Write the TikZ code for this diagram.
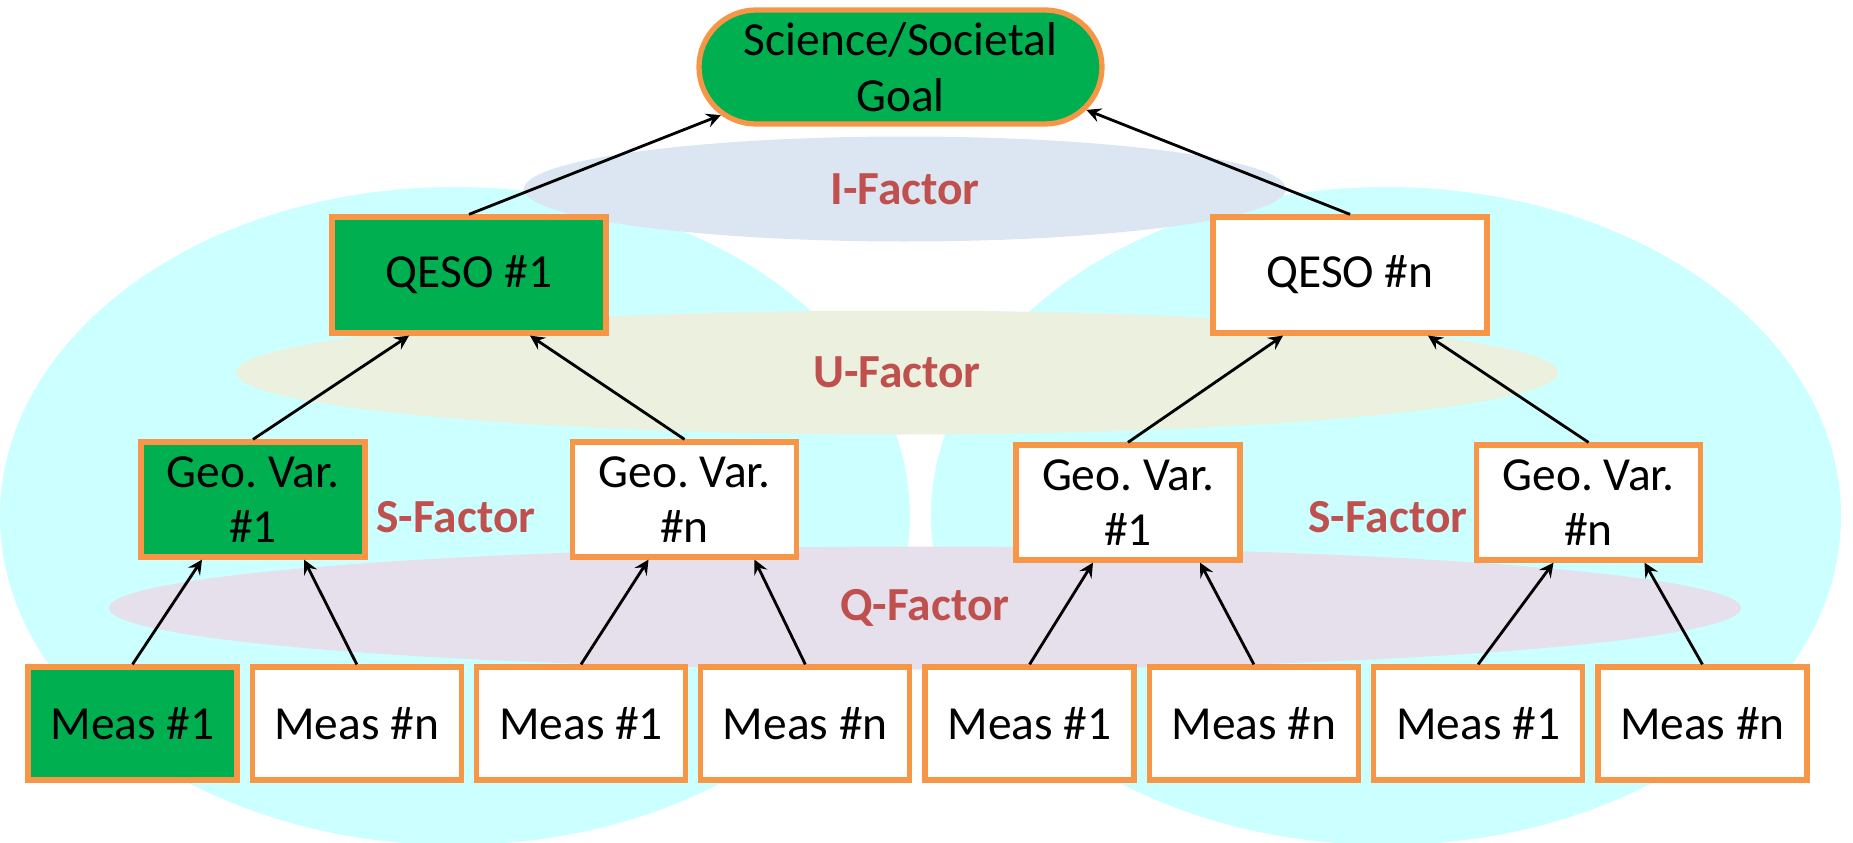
\documentclass[tikz,border=0pt]{standalone}
\usepackage{fontspec}
\setmainfont{Carlito}
\usepackage{tikz}
\usetikzlibrary{shapes,arrows,positioning}

\definecolor{goalgreen}{HTML}{00B050}
\definecolor{boxorange}{HTML}{F79646}
\definecolor{factorred}{HTML}{C0504D}
\definecolor{cyanbg}{HTML}{CCFFFF}
\definecolor{ifill}{HTML}{DCE6F2}
\definecolor{ufill}{HTML}{EBF1DE}
\definecolor{qfill}{HTML}{E5E0EC}

\begin{document}
\frenchspacing
\begin{tikzpicture}[
    node distance=0.10cm,
    font=\fontsize{13.5pt}{15.8pt}\selectfont,
    block/.style={rectangle, draw=boxorange, line width=1.5pt, fill=white, align=center, inner sep=0pt},
    measure/.style={block, minimum width=2.09cm, minimum height=1.13cm},
    geovar/.style={block, minimum width=2.24cm, minimum height=1.15cm},
    qeso/.style={block, minimum width=2.74cm, minimum height=1.16cm},
    goalbox/.style={rounded rectangle, draw=boxorange, line width=1.5pt, fill=goalgreen, align=center, minimum width=4.03cm, minimum height=1.14cm, inner sep=0pt},
    factor/.style={ellipse, inner sep=0pt, text=factorred, font=\fontsize{13.5pt}{15.8pt}\selectfont\bfseries},
    factorlabel/.style={text=factorred, font=\fontsize{13.5pt}{15.8pt}\selectfont\bfseries},
    highlight/.style={fill=goalgreen},
    arrow/.style={->, >=stealth, thick}
]
\useasboundingbox (0,0) rectangle (18.53,-8.43);

% Background
\fill [cyanbg] (4.55,-5.16) ellipse [x radius=4.55cm, y radius=3.29cm];
\fill [cyanbg] (13.86,-5.16) ellipse [x radius=4.55cm, y radius=3.29cm];

% Factors
\node [factor, fill=ifill, minimum width=7.62cm, minimum height=1.05cm] (i_factor) at (9.05,-1.89) {I-Factor};
\node [factor, fill=ufill, minimum width=13.22cm, minimum height=1.24cm] (u_factor) at (8.97,-3.725) {U-Factor};
\node [factor, fill=qfill, minimum width=16.32cm, minimum height=1.23cm] (q_factor) at (9.25,-6.08) {Q-Factor};
\node [factorlabel] (s_factor_a) at (4.56,-5.17) {S-Factor};
\node [factorlabel] (s_factor_b) at (13.88,-5.17) {S-Factor};

% Goal Layer
\node [goalbox] (goal) at (9.005,-0.67) {Science/Societal\\Goal};

% QESO Layer
\node [qeso, highlight] (qeso_1) at (4.69,-2.75) {QESO \#1};
\node [qeso] (qeso_n) at (13.50,-2.75) {QESO \#n};

% Geo. Var. Layer
\node [geovar, highlight] (geo_1a) at (2.53,-4.995) {Geo. Var.\\\#1};
\node [geovar] (geo_na) at (6.845,-4.995) {Geo. Var.\\\#n};
\node [geovar] (geo_1b) at (11.28,-5.025) {Geo. Var.\\\#1};
\node [geovar] (geo_nb) at (15.885,-5.025) {Geo. Var.\\\#n};

% Measurement Layer
\node [measure, highlight] (meas_1a) at (1.325,-7.235) {Meas \#1};
\node [measure, right=of meas_1a] (meas_na) {Meas \#n};
\node [measure, right=of meas_na] (meas_1b) {Meas \#1};
\node [measure, right=of meas_1b] (meas_nb) {Meas \#n};
\node [measure, right=of meas_nb] (meas_1c) {Meas \#1};
\node [measure, right=of meas_1c] (meas_nc) {Meas \#n};
\node [measure, right=of meas_nc] (meas_1d) {Meas \#1};
\node [measure, right=of meas_1d] (meas_nd) {Meas \#n};

% Arrows
\draw [arrow] (meas_1a.north) -- ([xshift=-0.51cm]geo_1a.south);
\draw [arrow] (meas_na.north) -- ([xshift=0.51cm]geo_1a.south);
\draw [arrow] (meas_1b.north) -- ([xshift=-0.36cm]geo_na.south);
\draw [arrow] (meas_nb.north) -- ([xshift=0.70cm]geo_na.south);
\draw [arrow] (meas_1c.north) -- ([xshift=-0.35cm]geo_1b.south);
\draw [arrow] (meas_nc.north) -- ([xshift=0.72cm]geo_1b.south);
\draw [arrow] (meas_1d.north) -- ([xshift=-0.35cm]geo_nb.south);
\draw [arrow] (meas_nd.north) -- ([xshift=0.56cm]geo_nb.south);
\draw [arrow] (geo_1a.north) -- ([xshift=-0.60cm]qeso_1.south);
\draw [arrow] (geo_na.north) -- ([xshift=0.61cm]qeso_1.south);
\draw [arrow] (geo_1b.north) -- ([xshift=-0.67cm]qeso_n.south);
\draw [arrow] (geo_nb.north) -- ([xshift=0.78cm]qeso_n.south);
\draw [arrow] (qeso_1.north) -- (goal.195);
\draw [arrow] (qeso_n.north) -- (goal.-13);

\end{tikzpicture}
\end{document}
